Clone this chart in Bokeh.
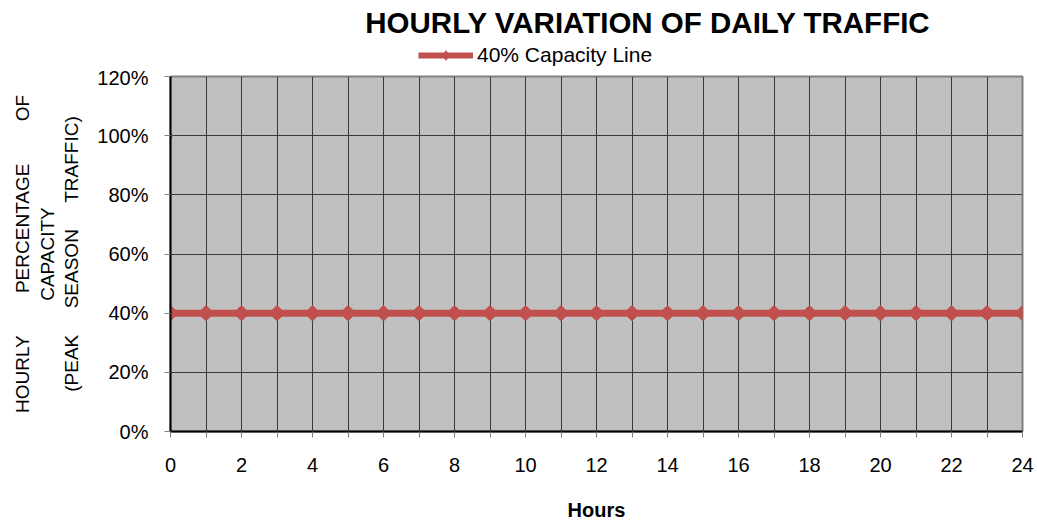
from bokeh.plotting import figure
from bokeh.layouts import column
from bokeh.models import Range1d, FixedTicker, PrintfTickFormatter, Legend, LegendItem, Label
from bokeh.embed import file_html
from bokeh.resources import INLINE

# ---- data ----
hours = [0, 1, 2, 3, 4, 5, 6, 7, 8, 9, 10, 11, 12, 13, 14, 15, 16, 17, 18, 19, 20, 21, 22, 23, 24]
capacity_40 = [40, 40, 40, 40, 40, 40, 40, 40, 40, 40, 40, 40, 40, 40, 40, 40, 40, 40, 40, 40, 40, 40, 40, 40, 40]
other_a_x = [0]
other_a_y = [100]
other_b_x = [0]
other_b_y = [0]
y_ticks = [0, 20, 40, 60, 80, 100, 120]
x_label_hours = [0, 2, 4, 6, 8, 10, 12, 14, 16, 18, 20, 22, 24]

title_text = "HOURLY VARIATION OF DAILY TRAFFIC"
series_name = "40% Capacity Line"
x_title = "Hours"
NB = "\u00a0"
y_title = ("HOURLY" + NB * 8 + "PERCENTAGE" + NB * 8 + "OF\n"
           "CAPACITY\n"
           "(PEAK" + NB * 5 + "SEASON" + NB * 5 + "TRAFFIC)")

FONT = "Liberation Sans"
RED = "#C0504D"
W = 1037
TOP_H = 66
MAIN_H = 523 - TOP_H

# ---------------- header: title + legend (frame aligned with main frame) ----------------
head = figure(width=W, height=TOP_H, output_backend="svg", toolbar_location=None,
              title_location=None,
              x_range=Range1d(0, 24), y_range=Range1d(1000, 1100),
              x_axis_type=None, y_axis_type=None,
              min_border=0, min_border_left=170, min_border_right=15,
              min_border_top=0, min_border_bottom=0)
head.outline_line_color = None
head.background_fill_color = "white"
head.border_fill_color = "white"
head.xgrid.visible = False
head.ygrid.visible = False

# same series drawn off-view here, only so that the legend can show its glyph
leg_line = head.line(hours, capacity_40, line_color=RED, line_width=6)
leg_mark = head.scatter(hours, capacity_40, marker="diamond", size=15,
                        fill_color=RED, line_color=RED)

head.add_layout(Label(x=477.5, y=44.3, x_units="screen", y_units="screen",
                      text=title_text, text_align="center",
                      text_baseline="alphabetic", text_font=FONT, text_font_style="bold",
                      text_font_size="29.5px", text_color="black"))

legend = Legend(items=[LegendItem(label=series_name, renderers=[leg_line, leg_mark])],
                location=(248, -1), orientation="horizontal",
                padding=0, margin=0, spacing=0,
                glyph_width=55, glyph_height=24, label_height=24, label_standoff=4,
                label_text_font=FONT, label_text_font_size="21px",
                label_text_color="black",
                background_fill_alpha=0, border_line_color=None)
head.add_layout(legend, "center")

# ---------------- main chart ----------------
p = figure(width=W, height=MAIN_H, output_backend="svg", toolbar_location=None,
           x_range=Range1d(0, 24), y_range=Range1d(0, 120),
           min_border_left=170, min_border_right=15, min_border_top=10, min_border_bottom=89)
p.background_fill_color = "#C0C0C0"
p.border_fill_color = "white"
p.outline_line_color = "#808080"
p.outline_line_width = 2

p.xgrid.ticker = FixedTicker(ticks=hours)
p.ygrid.ticker = FixedTicker(ticks=y_ticks)
for g in (p.xgrid, p.ygrid):
    g.grid_line_color = "#3a3a3a"
    g.grid_line_width = 1

xa = p.xaxis[0]
xa.ticker = FixedTicker(ticks=hours)
xa.major_label_overrides = {h: (str(h) if h in x_label_hours else "") for h in hours}
xa.axis_label = x_title
xa.axis_label_text_font = FONT
xa.axis_label_text_font_style = "bold"
xa.axis_label_text_font_size = "20px"
xa.axis_label_text_color = "black"
xa.axis_label_standoff = 24
xa.major_label_text_font = FONT
xa.major_label_text_font_size = "20px"
xa.major_label_text_color = "black"
xa.major_label_standoff = 20
xa.axis_line_color = "black"
xa.axis_line_width = 2
xa.major_tick_line_color = "#808080"
xa.major_tick_out = 6
xa.major_tick_in = 0
xa.minor_tick_line_color = None

ya = p.yaxis[0]
ya.ticker = FixedTicker(ticks=y_ticks)
ya.formatter = PrintfTickFormatter(format="%d%%")
ya.axis_label = y_title
ya.axis_label_text_font = FONT
ya.axis_label_text_font_style = "normal"
ya.axis_label_text_font_size = "19px"
ya.axis_label_text_line_height = 1.18
ya.axis_label_text_color = "black"
ya.axis_label_standoff = 12
ya.major_label_text_font = FONT
ya.major_label_text_font_size = "20px"
ya.major_label_text_color = "black"
ya.major_label_standoff = 16
ya.axis_line_color = "black"
ya.axis_line_width = 2
ya.major_tick_line_color = "#808080"
ya.major_tick_out = 6
ya.major_tick_in = 0
ya.minor_tick_line_color = None

p.line(hours, capacity_40, line_color=RED, line_width=7)
p.scatter(hours, capacity_40, marker="square", size=11, angle=0.785398,
          fill_color=RED, line_color=RED)
p.scatter(other_a_x, other_a_y, marker="square", size=4, fill_color="#8064A2", line_color=None)
p.scatter(other_b_x, other_b_y, marker="square", size=4, fill_color="#4BACC6", line_color=None)

layout = column(head, p, spacing=0)
open("out.html", "w").write(file_html(layout, INLINE))
